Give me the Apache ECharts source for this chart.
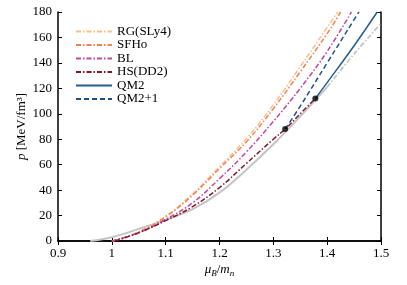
<!DOCTYPE html>
<html><head><meta charset="utf-8">
<script src="https://cdn.jsdelivr.net/npm/echarts@6/dist/echarts.min.js"></script>
<style>html,body{margin:0;padding:0;background:#fff}#c{width:407px;height:285px}</style>
</head><body><div id="c"></div>
<script>
const xTicks = [0.9, 1.0, 1.1, 1.2, 1.3, 1.4, 1.5];
const yTicks = [0, 20, 40, 60, 80, 100, 120, 140, 160, 180];

const rgX = [1.0, 1.05, 1.1, 1.15, 1.2, 1.25, 1.3, 1.35, 1.4, 1.42];
const rgY = [0, 7, 19.5, 37, 58.5, 80.5, 107, 137, 168, 180];

const sfhoX = [1.0, 1.05, 1.1, 1.15, 1.2, 1.25, 1.3, 1.35, 1.4, 1.425];
const sfhoY = [0, 7, 19, 36, 57, 78, 104, 133, 163, 180];

const blX = [1.0, 1.05, 1.1, 1.15, 1.2, 1.25, 1.3, 1.35, 1.4, 1.445];
const blY = [0, 6.5, 17, 30, 49, 70, 94, 120, 149, 180];

const dd2X = [1.006, 1.05, 1.1, 1.15, 1.2, 1.25, 1.3, 1.322, 1.35, 1.378];
const dd2Y = [0, 6.5, 16, 27, 42, 61, 80, 88, 100, 112];

const qm2X = [1.378, 1.4, 1.45, 1.493];
const qm2Y = [112, 124.5, 153.5, 180];

const qm21X = [1.322, 1.35, 1.4, 1.45, 1.459];
const qm21Y = [88, 106, 140, 174, 180];

const greyX = [0.96, 1.0, 1.05, 1.1, 1.15, 1.2, 1.25, 1.3, 1.35, 1.4];
const greyY = [0, 3, 9.5, 16.5, 25, 38, 56, 76, 98, 121];
const greyTailX = [1.4, 1.45, 1.5];
const greyTailY = [121, 147, 171];

const dotX = [1.322, 1.378];
const dotY = [88, 112];

const pairs = (xs, ys) => xs.map((x, i) => [x, ys[i]]);
const serif = 'Liberation Serif';
const dashDot = [5, 2, 1.5, 2];

function line(name, xs, ys, color, type, z, w) {
  return {
    name: name, type: 'line', data: pairs(xs, ys), symbol: 'none',
    smooth: 0.4, z: z || 2,
    lineStyle: { color: color, width: w || 1.5, type: type },
    itemStyle: { color: color }
  };
}

const chart = echarts.init(document.getElementById('c'), null, { renderer: 'canvas' });
const axisCommon = {
  axisLine: { show: true, lineStyle: { color: '#000', width: 1.5 } },
  axisTick: { show: true, inside: true, length: 4, lineStyle: { color: '#000', width: 1 } },
  splitLine: { show: false }
};
chart.setOption({
  animation: false,
  backgroundColor: '#fff',
  grid: { left: 58, right: 26, top: 12, bottom: 44, show: false, containLabel: false, outerBoundsMode: 'none' },
  legend: {
    left: 70, top: 20, orient: 'vertical', itemGap: 0.5, itemWidth: 36, itemHeight: 10,
    itemStyle: { opacity: 0 },
    textStyle: { fontFamily: serif, fontSize: 13, color: '#000', lineHeight: 13 },
    data: ['RG(SLy4)', 'SFHo', 'BL', 'HS(DD2)', 'QM2', 'QM2+1']
  },
  xAxis: [
    Object.assign({
      type: 'value', min: 0.9, max: 1.5, interval: 0.1, position: 'bottom',
      axisLabel: { color: '#000', fontFamily: serif, fontSize: 13, margin: 6,
        formatter: v => (Math.round(v * 10) / 10).toString() },
      name: '{i|μ}{s|B}{n|/}{i|m}{s|n}', nameLocation: 'middle', nameGap: 21, nameMoveOverlap: false,
      nameTextStyle: { rich: {
        i: { fontFamily: serif, fontStyle: 'italic', fontSize: 13, color: '#000' },
        n: { fontFamily: serif, fontSize: 13, color: '#000' },
        s: { fontFamily: serif, fontStyle: 'italic', fontSize: 9, color: '#000', padding: [7, 0, 0, 0] }
      } }
    }, axisCommon),
    Object.assign({
      type: 'value', min: 0.9, max: 1.5, interval: 0.1, position: 'top',
      axisLabel: { show: false }
    }, axisCommon)
  ],
  yAxis: [
    Object.assign({
      type: 'value', min: 0, max: 180, interval: 20, position: 'left',
      axisLabel: { color: '#000', fontFamily: serif, fontSize: 13, margin: 6 },
      name: '{i|p} [MeV/fm³]', nameLocation: 'middle', nameGap: 30, nameRotate: 90, nameMoveOverlap: false,
      nameTextStyle: { fontFamily: serif, fontSize: 13, color: '#000', rich: {
        i: { fontFamily: serif, fontStyle: 'italic', fontSize: 13, color: '#000' }
      } }
    }, axisCommon),
    Object.assign({
      type: 'value', min: 0, max: 180, interval: 20, position: 'right',
      axisLabel: { show: false }
    }, axisCommon)
  ],
  series: [
    line('grey', greyX, greyY, '#c4c4c4', 'solid', 1, 2),
    line('greyTail', greyTailX, greyTailY, '#c4c4c4', dashDot, 1, 1.8),
    line('RG(SLy4)', rgX, rgY, '#fbbf8a', dashDot),
    line('SFHo', sfhoX, sfhoY, '#ef8452', dashDot),
    line('BL', blX, blY, '#c1489c', dashDot),
    line('HS(DD2)', dd2X, dd2Y, '#85172c', dashDot),
    line('QM2', qm2X, qm2Y, '#255c94', 'solid', 3),
    line('QM2+1', qm21X, qm21Y, '#1f4f8a', [5, 3], 3),
    { name: 'dots', type: 'scatter', data: pairs(dotX, dotY), symbol: 'circle', symbolSize: 6,
      itemStyle: { color: '#000' }, z: 5 }
  ]
});
</script></body></html>
